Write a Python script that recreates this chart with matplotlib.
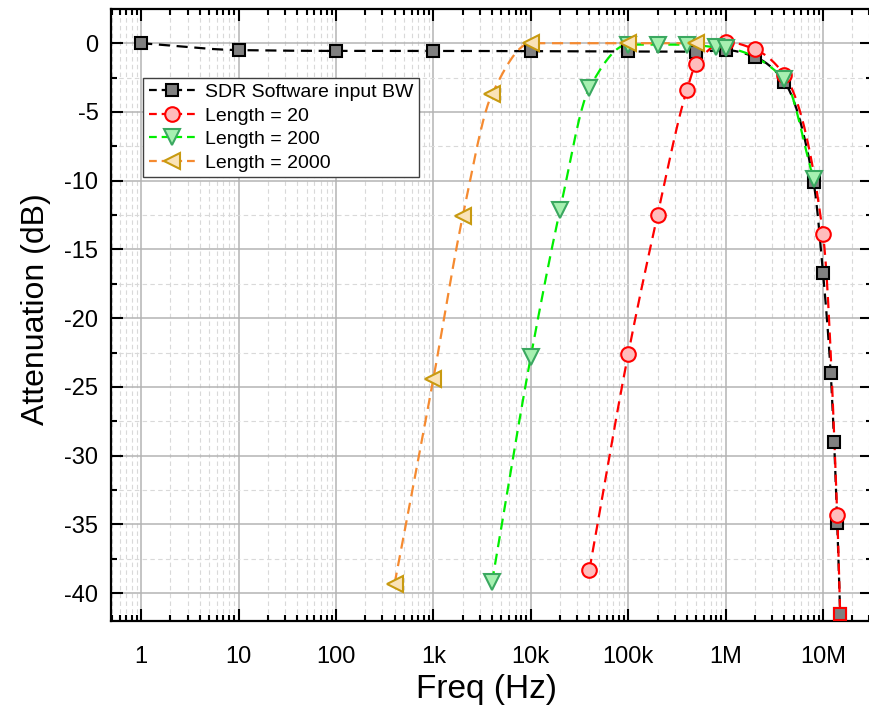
import numpy as np
import matplotlib
matplotlib.use("Agg")
import matplotlib.pyplot as plt
from matplotlib.lines import Line2D
from matplotlib.ticker import LogLocator, FixedLocator, MultipleLocator, FuncFormatter

plt.rcParams['font.family'] = ['Liberation Sans', 'DejaVu Sans']
plt.rcParams['axes.unicode_minus'] = False

# data (Hz, dB)
sdr_f = [1, 10, 100, 1e3, 1e4, 1e5, 5e5, 1e6, 2e6, 4e6, 8e6, 10e6, 12e6, 13e6, 14e6, 15e6]
sdr_db = [0, -0.5, -0.56, -0.56, -0.58, -0.6, -0.62, -0.5, -1.0, -2.8, -10.1, -16.7, -24.0, -29.0, -34.9, -41.5]

# last point sits under the final software square (only its line shows)
len20_f = [4e4, 1e5, 2e5, 4e5, 5e5, 1e6, 2e6, 4e6, 10e6, 14e6, 15e6]
len20_db = [-38.3, -22.6, -12.5, -3.4, -1.5, 0.1, -0.45, -2.3, -13.9, -34.3, -41.5]

len200_f = [4e3, 1e4, 2e4, 4e4, 1e5, 2e5, 4e5, 8e5, 1e6, 4e6, 8e6]
len200_db = [-39.2, -22.8, -12.1, -3.25, -0.1, -0.1, -0.1, -0.3, -0.35, -2.6, -9.9]

len2000_f = [400, 1e3, 2e3, 4e3, 1e4, 1e5, 5e5]
len2000_db = [-39.3, -24.4, -12.6, -3.7, 0, 0, 0]

tick_vals = [1, 10, 100, 1e3, 1e4, 1e5, 1e6, 1e7]
tick_text = ['1', '10', '100', '1k', '10k', '100k', '1M', '10M']


def smooth(xs, ys, n=400):
    # monotone cubic (pchip) through the points, in log-x
    x = np.log10(np.asarray(xs, float))
    y = np.asarray(ys, float)
    h = np.diff(x)
    d = np.diff(y) / h
    m = np.zeros_like(y)
    m[0], m[-1] = d[0], d[-1]
    for k in range(1, len(x) - 1):
        if d[k - 1] * d[k] > 0:
            w1 = 2 * h[k] + h[k - 1]
            w2 = h[k] + 2 * h[k - 1]
            m[k] = (w1 + w2) / (w1 / d[k - 1] + w2 / d[k])
    xn = np.linspace(x[0], x[-1], n)
    i = np.clip(np.searchsorted(x, xn) - 1, 0, len(h) - 1)
    t = (xn - x[i]) / h[i]
    yn = ((2 * t**3 - 3 * t**2 + 1) * y[i] + (t**3 - 2 * t**2 + t) * h[i] * m[i]
          + (-2 * t**3 + 3 * t**2) * y[i + 1] + (t**3 - t**2) * h[i] * m[i + 1])
    return 10 ** xn, yn


series = [
    (sdr_f, sdr_db, 'SDR Software input BW', 'black', 's', '#808080', 'black', 9, None),
    (len20_f, len20_db, 'Length = 20', '#ff0000', 'o', '#ffbcbc', '#ff0000', 10.5, slice(0, -1)),
    (len200_f, len200_db, 'Length = 200', '#00ee00', 'v', '#a6f0b0', '#3aa860', 11, None),
    (len2000_f, len2000_db, 'Length = 2000', '#f58a30', '<', '#fae3b8', '#c89a10', 11, None),
]

fig = plt.figure(figsize=(8.69, 7.11), dpi=100)
ax = fig.add_axes([0.1277, 0.127, 0.876, 0.860])

dash = (0, (5, 3))
handles = []
for f, db, name, lc, mk, fc, ec, ms, every in series:
    xs, ys = smooth(f, db)
    ax.plot(xs, ys, color=lc, lw=1.6, linestyle=dash, zorder=3)
for f, db, name, lc, mk, fc, ec, ms, every in series:
    ax.plot(f, db, linestyle='none', marker=mk, ms=ms, mfc=fc, mec=ec, mew=1.5, markevery=every,
            zorder=4)
    handles.append(Line2D([], [], color=lc, lw=1.6, linestyle=(0, (3.5, 2.2)), marker=mk, ms=ms,
                          mfc=fc, mec=ec, mew=1.5))

# last software point is drawn with a red outline in the reference
ax.plot(sdr_f[-1:], sdr_db[-1:], linestyle='none', marker='s', ms=9, mfc='#808080', mec='#ff0000',
        mew=1.5, zorder=5)

ax.set_xscale('log')
ax.set_xlim(0.49, 3.2e7)
ax.set_ylim(-42.0, 2.47)

ax.xaxis.set_major_locator(FixedLocator(tick_vals))
ax.xaxis.set_major_formatter(FuncFormatter(lambda v, p: dict(zip(tick_vals, tick_text)).get(v, '')))
ax.xaxis.set_minor_locator(LogLocator(base=10, subs=np.arange(2, 10), numticks=20))
ax.yaxis.set_major_locator(MultipleLocator(5))
ax.yaxis.set_minor_locator(MultipleLocator(2.5))

ax.tick_params(which='both', direction='in', top=True, right=True, width=1.5)
ax.tick_params(which='major', length=8.5, labelsize=17)
ax.tick_params(axis='x', which='major', pad=18)
ax.tick_params(axis='y', which='major', pad=9)
ax.tick_params(which='minor', length=4.5)

ax.grid(which='major', color='#b4b4b4', lw=1.1, linestyle='-')
ax.grid(which='minor', color='#d9d9d9', lw=0.8, linestyle=(0, (4, 3)))
ax.set_axisbelow(True)
for s in ax.spines.values():
    s.set_linewidth(1.6)

ax.set_xlabel('Freq (Hz)', fontsize=24, va='center')
ax.set_ylabel('Attenuation (dB)', fontsize=23)
ax.xaxis.set_label_coords(0.493, -0.112)
ax.yaxis.set_label_coords(-0.079, 0.51)

leg = ax.legend(handles, [s[2] for s in series], loc='upper left', bbox_to_anchor=(0.042, 0.888),
                fontsize=14, frameon=True, fancybox=False, framealpha=1, edgecolor='#404040',
                handlelength=2.4, handletextpad=0.5, borderpad=0.3, labelspacing=0.3,
                borderaxespad=0)
leg.get_frame().set_linewidth(1.0)

fig.savefig('out.png', dpi=100)
